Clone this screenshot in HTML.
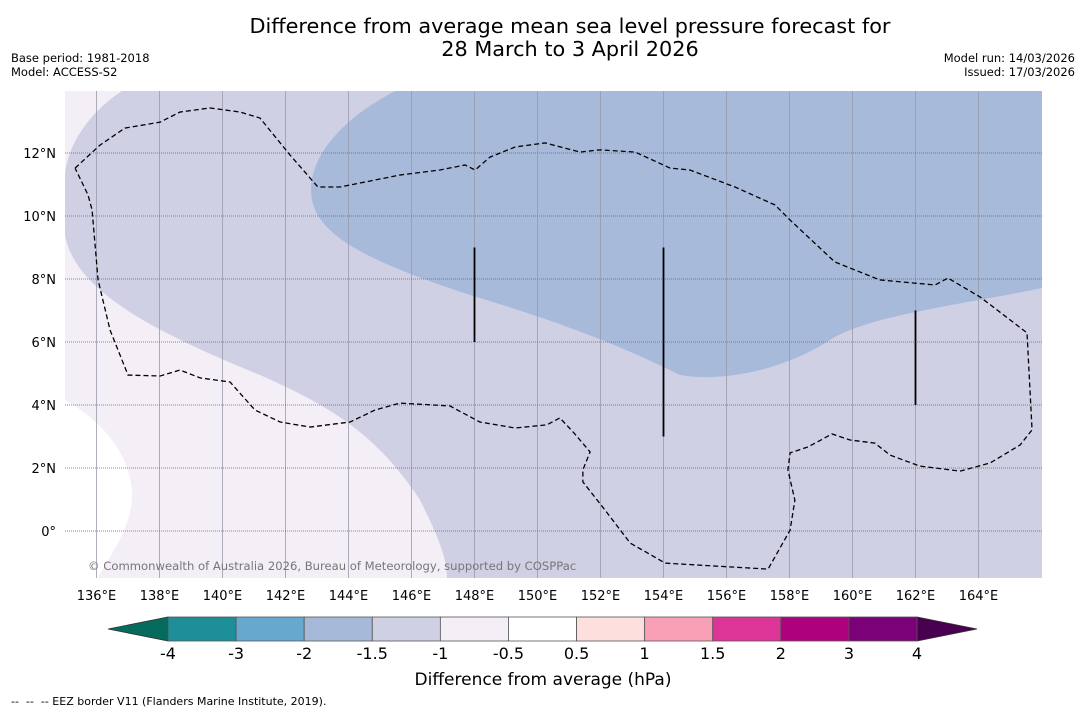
<!DOCTYPE html>
<html><head><meta charset="utf-8">
<style>
body{margin:0;width:1085px;height:713px;background:#fff;font-family:"DejaVu Sans","Liberation Sans",sans-serif;overflow:hidden;position:relative}
.t{position:absolute;white-space:nowrap}
</style></head><body>
<div class="t" style="left:0;width:1140px;text-align:center;top:15px;font-size:20.8px;line-height:23px">Difference from average mean sea level pressure forecast for<br>28 March to 3 April 2026</div>
<div class="t" style="left:11px;top:51px;font-size:11.5px;line-height:14px">Base period: 1981-2018<br>Model: ACCESS-S2</div>
<div class="t" style="right:10px;top:51px;font-size:11.5px;line-height:14px;text-align:right">Model run: 14/03/2026<br>Issued: 17/03/2026</div>
<svg id="chart" width="1085" height="713" style="position:absolute;left:0;top:0"></svg>
<div class="t" style="left:11px;top:695px;font-size:11px">--&nbsp; --&nbsp; -- EEZ border V11 (Flanders Marine Institute, 2019).</div>
<script>
const lonTicks=[136,138,140,142,144,146,148,150,152,154,156,158,160,162,164];
const latTicks=[0,2,4,6,8,10,12];
const levels=[-4,-3,-2,-1.5,-1,-0.5,0.5,1,1.5,2,3,4];
const levelLabels=["-4","-3","-2","-1.5","-1","-0.5","0.5","1","1.5","2","3","4"];
const levelColors=["#1e8f99","#67a8cf","#a6b9d9","#cfd0e4","#f4eef6","#ffffff","#fde0dd","#f9a0b6","#dc3597","#ae017e","#7a0177"];
const eezLon=[135.32,136.11,136.9,138.02,138.65,139.6,140.56,141.19,142.14,143.03,143.73,145.63,146.9,147.7,148.02,148.49,149.29,150.24,151.35,151.98,153.1,154.21,154.84,156.27,157.54,158.02,159.44,160.87,162.62,163.03,164.05,165.54,165.7,165.32,164.37,163.41,162.14,161.19,160.71,159.92,159.35,158.59,158.02,157.95,158.17,158.02,157.32,154.05,152.94,152.14,151.44,151.44,151.67,151.16,150.71,150.3,149.29,148.17,147.22,145.63,144.84,144.05,142.78,141.83,141.03,140.24,139.29,138.65,138.02,137.0,136.43,136.05,135.86,135.73,135.32];
const eezLat=[11.52,12.25,12.79,12.98,13.3,13.43,13.3,13.11,11.94,10.92,10.92,11.3,11.46,11.62,11.46,11.87,12.19,12.32,12.03,12.1,12.03,11.52,11.46,10.92,10.35,9.87,8.54,7.97,7.81,8.03,7.43,6.29,3.21,2.73,2.16,1.9,2.06,2.41,2.79,2.89,3.08,2.67,2.48,1.94,0.98,0.03,-1.21,-1.02,-0.38,0.67,1.56,1.94,2.51,3.11,3.59,3.37,3.27,3.46,3.97,4.06,3.84,3.46,3.3,3.46,3.84,4.73,4.86,5.11,4.92,4.95,6.38,7.97,10.19,10.67,11.52];
const lineLon=[148,154,162], lineTop=[9,9,7], lineBot=[6,3,4];
const X0=65,X1=1042,Y0=91,Y1=578;
const x=lon=>X0+(lon-135)*31.5;
const y=lat=>531-lat*31.5;
const svg=document.getElementById('chart');const NS='http://www.w3.org/2000/svg';
function el(t,a,p){const e=document.createElementNS(NS,t);for(const k in a)e.setAttribute(k,a[k]);(p||svg).appendChild(e);return e;}
const defs=el('defs',{});const cp=el('clipPath',{id:'cp'},defs);el('rect',{x:X0,y:Y0,width:X1-X0,height:Y1-Y0},cp);
const g=el('g',{'clip-path':'url(#cp)'});
let e=el('rect',{x:X0,y:Y0,width:X1-X0,height:Y1-Y0,fill:'#cfd0e4'},g);

e=el('path',{d:'M395,91 C340,120 305,160 312,200 C320,240 380,265 470,295 C560,322 620,345 680,375 C720,382 780,372 830,340 C870,315 960,305 1042,288 L1042,91 Z',fill:'#a7bada'},g);

e=el('path',{d:'M65,91 L122,91 C95,108 68,140 65,175 L65,235 C75,290 150,330 260,375 C340,410 380,440 420,500 C440,540 447,560 447,578 L65,578 Z',fill:'#f4eef6'},g);

e=el('path',{d:'M65,400 C100,420 128,450 132,490 C134,525 110,555 98,578 L65,578 Z',fill:'#ffffff'},g);

lonTicks.forEach(l=>{const v=el('line',{x1:x(l),x2:x(l),y1:Y0,y2:Y1,stroke:'#9a9aaa','stroke-width':0.8},g);

const t=el('text',{x:x(l),y:600,'text-anchor':'middle','font-size':13});t.textContent=l+'°E';
});
latTicks.forEach(l=>{const h=el('line',{x1:X0,x2:X1,y1:y(l),y2:y(l),stroke:'#666','stroke-width':0.8,'stroke-dasharray':'1,1'},g);

const t=el('text',{x:56,y:y(l)+5,'text-anchor':'end','font-size':13});t.textContent=l===0?'0°':l+'°N';
});
e=el('polyline',{points:eezLon.map((l,i)=>x(l)+','+y(eezLat[i])).join(' '),fill:'none',stroke:'#000','stroke-width':1.3,'stroke-dasharray':'5,3'},g);

lineLon.forEach((l,i)=>{const v=el('line',{x1:x(l),x2:x(l),y1:y(lineTop[i]),y2:y(lineBot[i]),stroke:'#000','stroke-width':1.8},g);
});
e=el('text',{x:88,y:570,'font-size':11.6,fill:'#777'},g);e.textContent='© Commonwealth of Australia 2026, Bureau of Meteorology, supported by COSPPac';

const cx0=168,cx1=917,cy0=617,cy1=641;
const cx=i=>cx0+i*(cx1-cx0)/(levels.length-1);
e=el('polygon',{points:`108,629 ${cx0},${cy0} ${cx0},${cy1}`,fill:'#046b5d',stroke:'#333','stroke-width':0.8});

e=el('polygon',{points:`977,629 ${cx1},${cy0} ${cx1},${cy1}`,fill:'#4a0050',stroke:'#333','stroke-width':0.8});

levelColors.forEach((c,i)=>{const r=el('rect',{x:cx(i),y:cy0,width:cx(i+1)-cx(i),height:cy1-cy0,fill:c,stroke:'#555','stroke-width':0.8});
});
levelLabels.forEach((s,i)=>{const t=el('text',{x:cx(i),y:659,'text-anchor':'middle','font-size':16});t.textContent=s;
});
e=el('text',{x:543,y:685,'text-anchor':'middle','font-size':17});e.textContent='Difference from average (hPa)';

</script>
</body></html>
